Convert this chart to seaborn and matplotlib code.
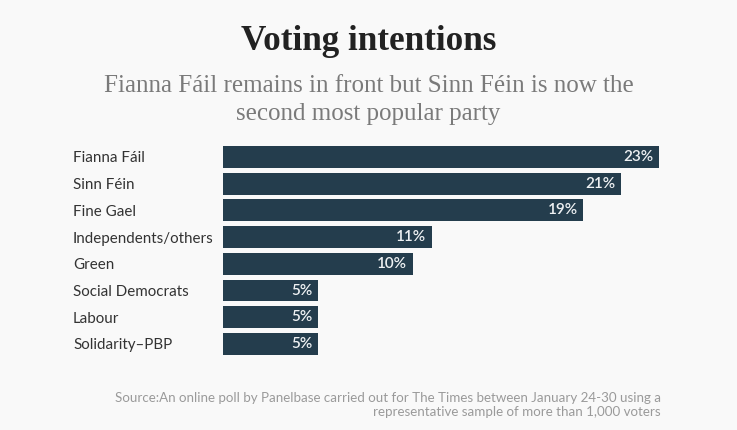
import matplotlib
matplotlib.use("Agg")
import matplotlib.pyplot as plt
import seaborn as sns
import pandas as pd

parties = ["Fianna Fáil", "Sinn Féin", "Fine Gael", "Independents/others",
           "Green", "Social Democrats", "Labour", "Solidarity\u2013PBP"]
shares = [23, 21, 19, 11, 10, 5, 5, 5]

data = pd.DataFrame({"party": parties, "share": shares})

sns.set_style("white")
plt.rcParams["font.family"] = ["Lato", "DejaVu Sans"]

bg = "#f9f9f9"
bar_color = "#243d4d"

fig = plt.figure(figsize=(7.37, 4.30), dpi=100, facecolor=bg)
ax = fig.add_axes([0.3026, 0.169, 0.5916, 0.497])
ax.set_facecolor(bg)

sns.barplot(data=data, x="share", y="party", color=bar_color,
            width=0.82, saturation=1, linewidth=0, ax=ax)

ax.set_xlim(0, 23)
ax.set_ylim(7.5, -0.5)
ax.set_xlabel("")
ax.set_ylabel("")
ax.set_xticks([])
for s in ax.spines.values():
    s.set_visible(False)

ax.tick_params(axis="y", length=0, pad=108, labelsize=10.9, labelcolor="#333333")
for lab in ax.get_yticklabels():
    lab.set_horizontalalignment("left")

for i, v in enumerate(shares):
    ax.annotate(f"{v}%", xy=(v, i), xytext=(-4, 0), textcoords="offset points",
                ha="right", va="center", color="#eef1f3", fontsize=11,
                fontweight="semibold")

fig.text(0.5, 0.903, "Voting intentions", ha="center", va="center",
         family="Liberation Serif", fontweight="bold", fontsize=25.3, color="#222222")
fig.text(0.5, 0.768, "Fianna Fáil remains in front but Sinn Féin is now the\nsecond most popular party",
         ha="center", va="center", family="Liberation Serif", fontsize=18,
         color="#7a7a7a", linespacing=1.38)
fig.text(0.897, 0.058, "Source:An online poll by Panelbase carried out for The Times between January 24-30 using a\n"
         "representative sample of more than 1,000 voters",
         ha="right", va="center", fontsize=9.6, color="#9a9a9a", linespacing=1.25)

fig.savefig("out.png", dpi=100, facecolor=bg)
